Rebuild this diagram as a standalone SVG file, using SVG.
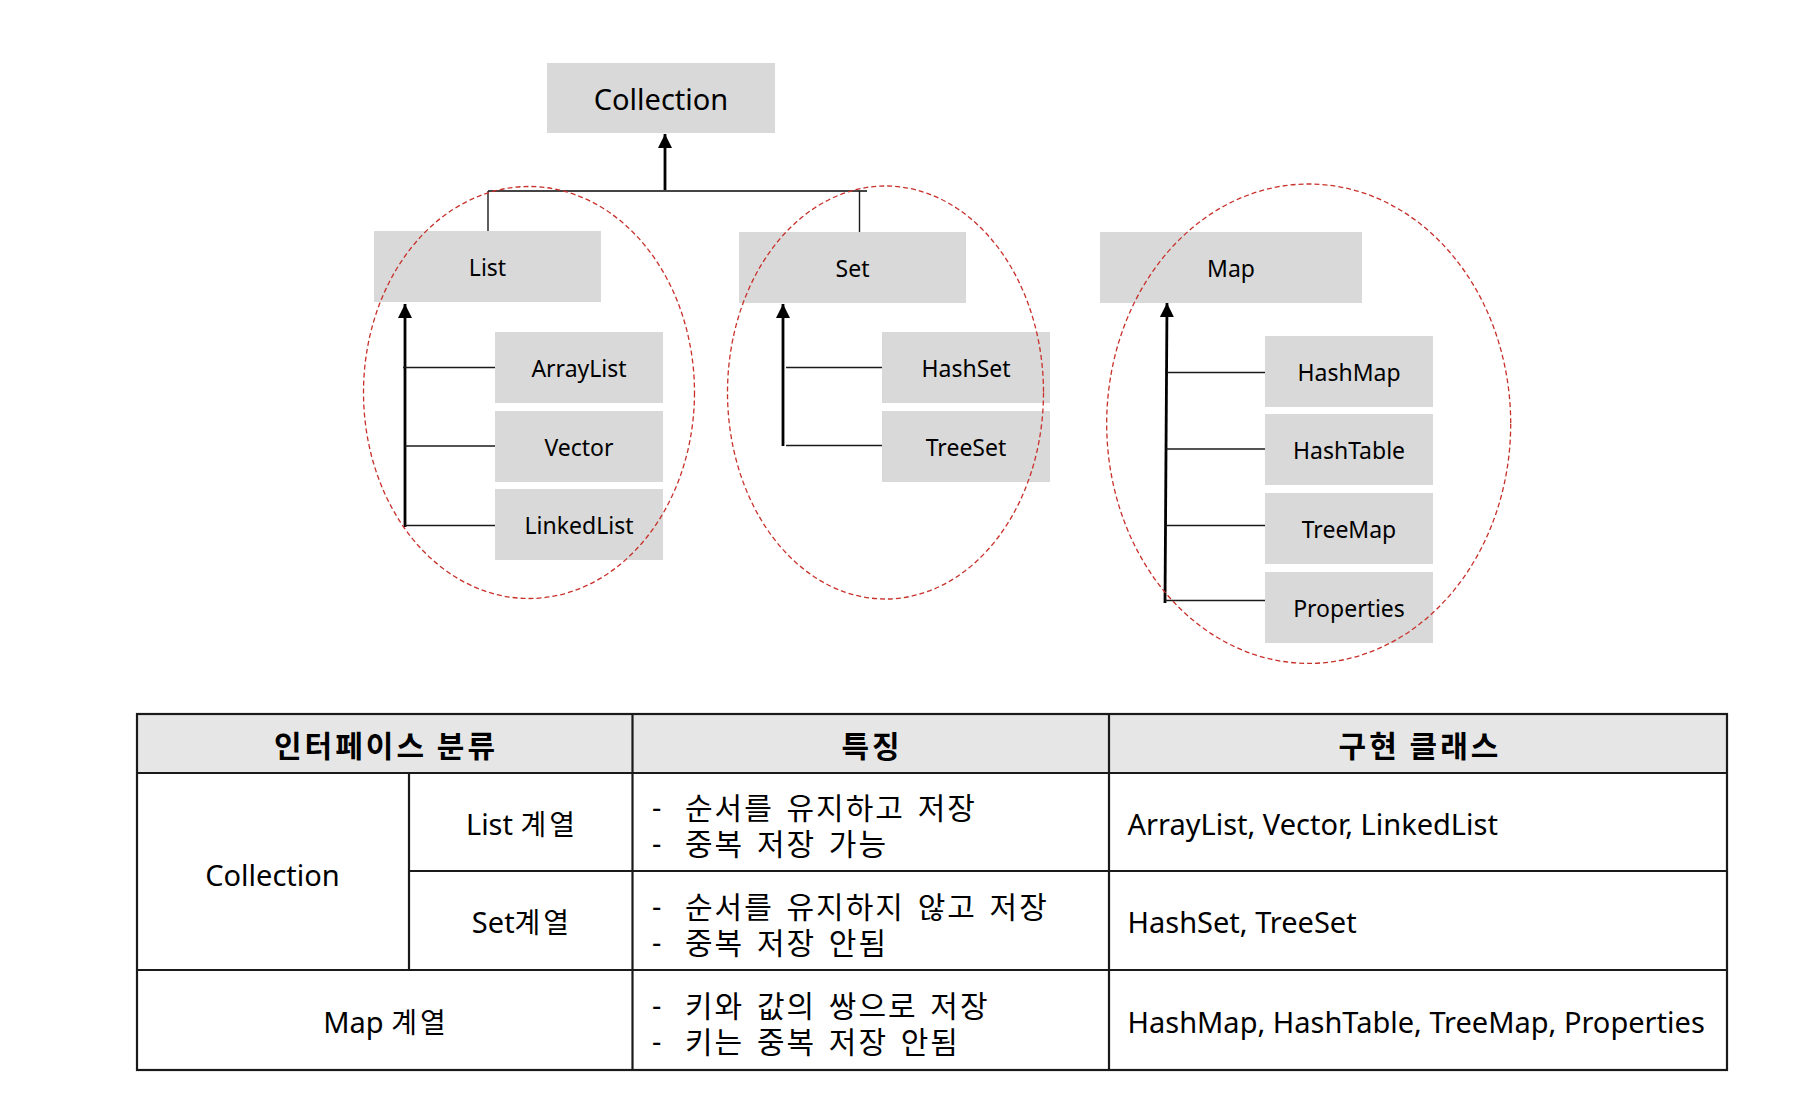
<svg xmlns="http://www.w3.org/2000/svg" width="1806" height="1112" viewBox="0 0 1806 1112">
<style>
  .box { fill: #d9d9d9; }
  .lbl { font-family: "Noto Sans", "Noto Sans CJK KR", sans-serif; fill: #000; text-anchor: middle; dominant-baseline: central; }
  .big { font-size: 29px; }
  .mid { font-size: 23px; }
  .ring { fill: none; stroke: #c8302a; stroke-width: 1.3; stroke-dasharray: 5 3; }
  .thin { fill: none; stroke: #1a1a1a; stroke-width: 1.4; }
  .bar { fill: none; stroke: #000; stroke-width: 2.8; }
  .tline { stroke: #1a1a1a; stroke-width: 2.2; fill: none; }
  .th { font-family: "Noto Sans CJK KR", "Noto Sans", sans-serif; font-size: 30px; font-weight: bold; text-anchor: middle; dominant-baseline: central; letter-spacing: 3px; }
  .td { font-family: "Noto Sans", "Noto Sans CJK KR", sans-serif; font-size: 29px; dominant-baseline: central; }
  .tk { font-family: "Noto Sans CJK KR", "Noto Sans", sans-serif; font-size: 30px; dominant-baseline: central; letter-spacing: 2px; word-spacing: 4px; }
  .kh { font-family: "Noto Sans CJK KR", "Noto Sans", sans-serif; font-size: 28px; letter-spacing: 3px; }
  .c { text-anchor: middle; }
</style>
<defs>
  <marker id="ah" viewBox="0 0 14 14" refX="14" refY="7" markerWidth="14" markerHeight="14" markerUnits="userSpaceOnUse" orient="auto">
    <path d="M0,0 L14,7 L0,14 z" fill="#000"/>
  </marker>
</defs>

<g id="connectors">
  <line class="bar" x1="665" y1="191" x2="665" y2="134" marker-end="url(#ah)"/>
  <line x1="488" y1="191" x2="867" y2="191" stroke="#444" stroke-width="2"/>
  <line class="thin" x1="488" y1="191" x2="488" y2="231"/>
  <line class="thin" x1="859.5" y1="191" x2="859.5" y2="232"/>

  <line class="bar" x1="405" y1="527" x2="405" y2="304" marker-end="url(#ah)"/>
  <line class="thin" x1="403" y1="367.5" x2="495" y2="367.5"/>
  <line class="thin" x1="405" y1="446" x2="495" y2="446"/>
  <line class="thin" x1="405" y1="525.5" x2="495" y2="525.5"/>

  <line class="bar" x1="783" y1="446" x2="783" y2="304" marker-end="url(#ah)"/>
  <line class="thin" x1="786" y1="367.5" x2="882" y2="367.5"/>
  <line class="thin" x1="786" y1="445.5" x2="882" y2="445.5"/>

  <line class="bar" x1="1165" y1="603" x2="1167" y2="303" marker-end="url(#ah)"/>
  <line class="thin" x1="1167" y1="372.5" x2="1265" y2="372.5"/>
  <line class="thin" x1="1166" y1="449" x2="1265" y2="449"/>
  <line class="thin" x1="1166" y1="525.5" x2="1265" y2="525.5"/>
  <line class="thin" x1="1165" y1="600.5" x2="1265" y2="600.5"/>
</g>

<g id="node-collection"><rect class="box" x="547" y="63" width="228" height="70"/><text class="lbl big" x="661" y="98">Collection</text></g>
<g id="node-list"><rect class="box" x="374" y="231" width="227" height="71"/><text class="lbl mid" x="487.5" y="266.5">List</text></g>
<g id="node-set"><rect class="box" x="739" y="232" width="227" height="71"/><text class="lbl mid" x="852.5" y="267.5">Set</text></g>
<g id="node-map"><rect class="box" x="1100" y="232" width="262" height="71"/><text class="lbl mid" x="1231" y="267.5">Map</text></g>

<g id="node-arraylist"><rect class="box" x="495" y="332" width="168" height="71"/><text class="lbl mid" x="579" y="367.5">ArrayList</text></g>
<g id="node-vector"><rect class="box" x="495" y="411" width="168" height="71"/><text class="lbl mid" x="579" y="446.5">Vector</text></g>
<g id="node-linkedlist"><rect class="box" x="495" y="489" width="168" height="71"/><text class="lbl mid" x="579" y="524.5">LinkedList</text></g>

<g id="node-hashset"><rect class="box" x="882" y="332" width="168" height="71"/><text class="lbl mid" x="966" y="367.5">HashSet</text></g>
<g id="node-treeset"><rect class="box" x="882" y="411" width="168" height="71"/><text class="lbl mid" x="966" y="446.5">TreeSet</text></g>

<g id="node-hashmap"><rect class="box" x="1265" y="336" width="168" height="71"/><text class="lbl mid" x="1349" y="371.5">HashMap</text></g>
<g id="node-hashtable"><rect class="box" x="1265" y="414" width="168" height="71"/><text class="lbl mid" x="1349" y="449.5">HashTable</text></g>
<g id="node-treemap"><rect class="box" x="1265" y="493" width="168" height="71"/><text class="lbl mid" x="1349" y="528.5">TreeMap</text></g>
<g id="node-properties"><rect class="box" x="1265" y="572" width="168" height="71"/><text class="lbl mid" x="1349" y="607.5">Properties</text></g>

<g id="rings">
  <ellipse class="ring" cx="529" cy="392.5" rx="165.5" ry="206"/>
  <ellipse class="ring" cx="885.5" cy="392.5" rx="158" ry="206.5"/>
  <ellipse class="ring" cx="1308.7" cy="423.7" rx="202" ry="239.7"/>
</g>

<g id="table">
  <rect x="137" y="714" width="1590" height="59" fill="#e6e6e6"/>
  <rect class="tline" x="137" y="714" width="1590" height="356"/>
  <line class="tline" x1="137" y1="773" x2="1727" y2="773"/>
  <line class="tline" x1="409" y1="871" x2="1727" y2="871"/>
  <line class="tline" x1="137" y1="970" x2="1727" y2="970"/>
  <line class="tline" x1="409" y1="773" x2="409" y2="970"/>
  <line class="tline" x1="632.5" y1="714" x2="632.5" y2="1070"/>
  <line class="tline" x1="1109" y1="714" x2="1109" y2="1070"/>

  <text class="th" x="386" y="744">인터페이스 분류</text>
  <text class="th" x="872" y="744">특징</text>
  <text class="th" x="1420" y="744">구현 클래스</text>

  <text class="td c" x="272.5" y="874">Collection</text>
  <text class="td c" x="522" y="823">List <tspan class="kh">계열</tspan></text>
  <text class="td c" x="522" y="921">Set<tspan class="kh">계열</tspan></text>
  <text class="td c" x="386" y="1021">Map  <tspan class="kh">계열</tspan></text>

  <text class="td"><tspan x="652" y="806">-</tspan><tspan x="652" y="842">-</tspan></text>
  <text class="tk"><tspan x="685" y="806">순서를 유지하고 저장</tspan><tspan x="685" y="842">중복 저장 가능</tspan></text>
  <text class="td"><tspan x="652" y="905">-</tspan><tspan x="652" y="941">-</tspan></text>
  <text class="tk"><tspan x="685" y="905">순서를 유지하지 않고 저장</tspan><tspan x="685" y="941">중복 저장 안됨</tspan></text>
  <text class="td"><tspan x="652" y="1004">-</tspan><tspan x="652" y="1040">-</tspan></text>
  <text class="tk"><tspan x="685" y="1004">키와 값의 쌍으로 저장</tspan><tspan x="685" y="1040">키는 중복 저장 안됨</tspan></text>

  <text class="td" x="1127.5" y="823">ArrayList, Vector, LinkedList</text>
  <text class="td" x="1127.5" y="921">HashSet, TreeSet</text>
  <text class="td" x="1127.5" y="1021">HashMap, HashTable, TreeMap, Properties</text>
</g>
</svg>
